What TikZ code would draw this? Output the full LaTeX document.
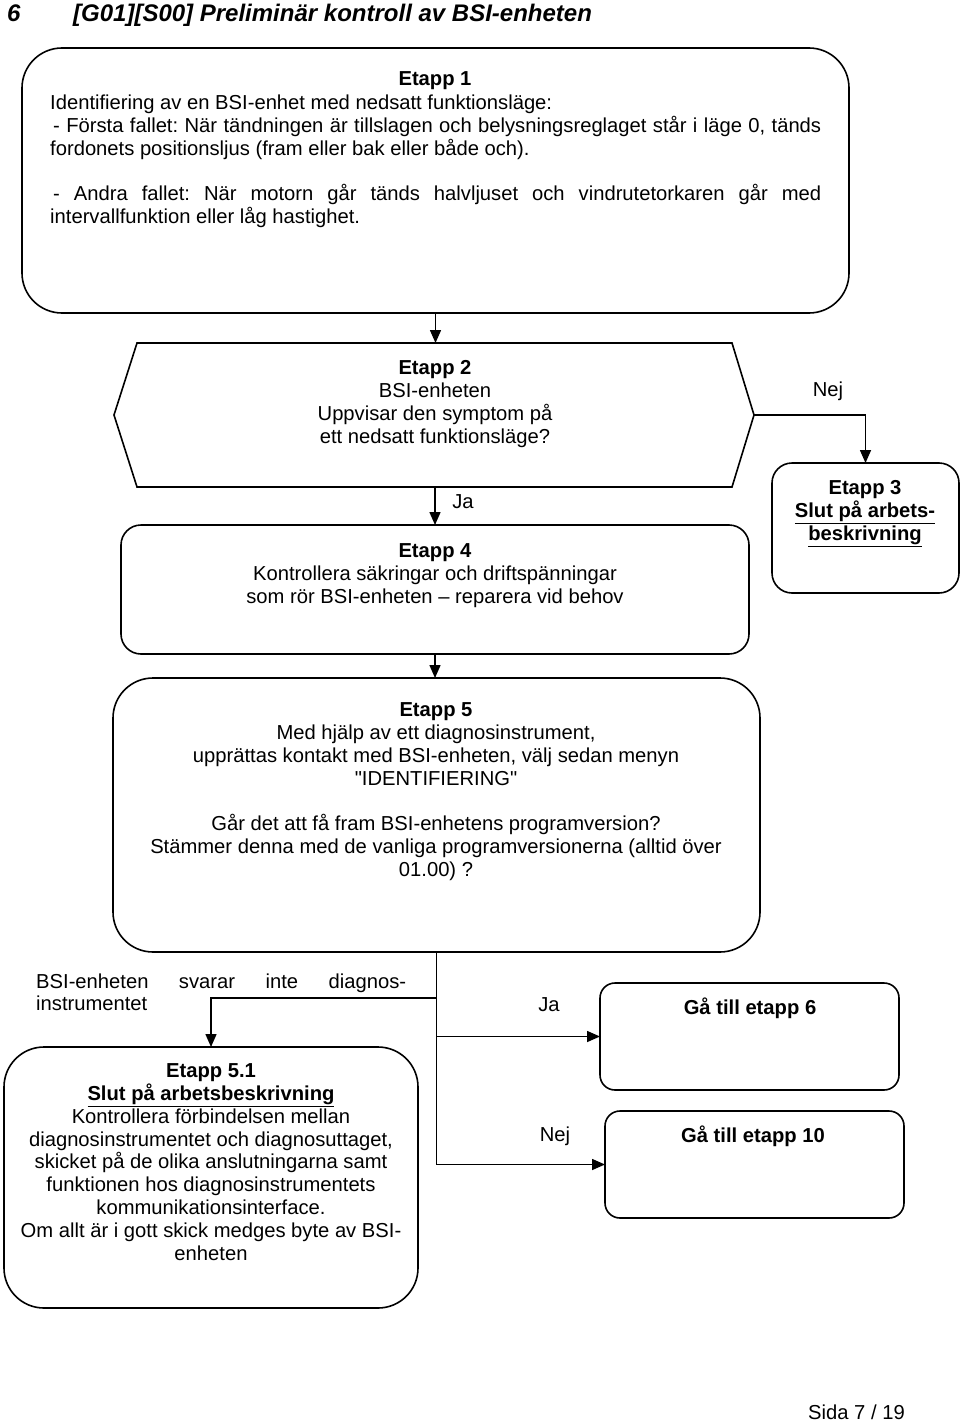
\documentclass[tikz,border=0pt]{standalone}
\usepackage{fontspec}
\setmainfont{Liberation Sans}[Ligatures=TeXOff]
\usetikzlibrary{arrows.meta}
\frenchspacing
\begin{document}
\begin{tikzpicture}[x=1pt,y=-1pt,
  box/.style={draw, line width=1.6pt, inner sep=0pt, outer sep=0pt},
  txt/.style={font=\fontsize{20.2}{22.8}\selectfont, inner sep=0pt, align=center},
  ltxt/.style={font=\fontsize{20.2}{22.8}\selectfont, inner sep=0pt, anchor=base west},
  conn/.style={line width=1.5pt, -{Triangle[length=13pt,width=11pt]}},
  plain/.style={line width=1.5pt}]
\useasboundingbox (0,0) rectangle (960,1423);

% title
\node[anchor=base west, inner sep=0pt, font=\fontsize{24}{28}\selectfont\bfseries\itshape] (num) at (7,22) {6};
\node[anchor=base west, inner sep=0pt, font=\fontsize{24}{28}\selectfont\bfseries\itshape] (title) at (73,22) {[G01][S00] Preliminär kontroll av BSI-enheten};

% boxes
\node[box, rounded corners=40pt, minimum width=827pt, minimum height=265pt] (e1) at (435.5,180.5) {};
\node[inner sep=0pt, outer sep=0pt, minimum width=640pt, minimum height=144pt] (hex) at (434,415) {};
\draw[line width=1.6pt] (hex.west) -- ([xshift=23pt]hex.north west) -- ([xshift=-22pt]hex.north east) -- (hex.east) -- ([xshift=-22pt]hex.south east) -- ([xshift=23pt]hex.south west) -- cycle;
\node[box, rounded corners=20pt, minimum width=187pt, minimum height=130pt] (e3) at (865.5,528) {};
\node[box, rounded corners=20pt, minimum width=628pt, minimum height=129pt] (e4) at (435,589.5) {};
\node[box, rounded corners=40pt, minimum width=647pt, minimum height=274pt] (e5) at (436.5,815) {};
\node[box, rounded corners=15pt, minimum width=299pt, minimum height=107pt] (g6) at (749.5,1036.5) {};
\node[box, rounded corners=15pt, minimum width=299pt, minimum height=107pt] (g10) at (754.5,1164.5) {};
\node[box, rounded corners=40pt, minimum width=414pt, minimum height=261pt] (e51) at (211,1177.5) {};

% texts
\node[txt, anchor=north] (t1) at (435,71.5) {\textbf{Etapp 1}};
\node[ltxt] (t1a) at (50,110) {Identifiering av en BSI-enhet med nedsatt funktionsläge:};
\node[ltxt] (t1b) at (53,133) {\makebox[768pt][s]{- Första fallet: När tändningen är tillslagen och belysningsreglaget står i läge 0, tänds}};
\node[ltxt] (t1c) at (50,156) {fordonets positionsljus (fram eller bak eller både och).};
\node[ltxt] (t1d) at (53,201) {\makebox[768pt][s]{- Andra fallet: När motorn går tänds halvljuset och vindrutetorkaren går med}};
\node[ltxt] (t1e) at (50,224) {intervallfunktion eller låg hastighet.};

\node[txt, anchor=north] (t2) at (435,360.5) {\textbf{Etapp 2}\\BSI-enheten\\Uppvisar den symptom på\\ett nedsatt funktionsläge?};
\node[txt, anchor=north] (t3) at (865,480.5) {\textbf{Etapp 3}\\\textbf{\underline{Slut på arbets-}}\\\textbf{\underline{beskrivning}}};
\node[txt, anchor=north] (t4) at (435,543.5) {\textbf{Etapp 4}\\Kontrollera säkringar och driftspänningar\\som rör BSI-enheten – reparera vid behov};
\node[txt, anchor=north] (t5) at (436,702.5) {\textbf{Etapp 5}\\Med hjälp av ett diagnosinstrument,\\upprättas kontakt med BSI-enheten, välj sedan menyn\\"IDENTIFIERING"\\[22.8pt]Går det att få fram BSI-enhetens programversion?\\Stämmer denna med de vanliga programversionerna (alltid över\\01.00) ?};
\node[txt, anchor=north] (t51) at (211,1063.5) {\textbf{Etapp 5.1}\\\textbf{\underline{Slut på arbetsbeskrivning}}\\Kontrollera förbindelsen mellan\\diagnosinstrumentet och diagnosuttaget,\\skicket på de olika anslutningarna samt\\funktionen hos diagnosinstrumentets\\kommunikationsinterface.\\Om allt är i gott skick medges byte av BSI-\\enheten};
\node[txt] (t6) at (750,1008) {\textbf{Gå till etapp 6}};
\node[txt] (t10) at (753,1136) {\textbf{Gå till etapp 10}};

% labels
\node[txt] (nej1) at (828,391) {Nej};
\node[txt] (ja1) at (463,502) {Ja};
\node[txt] (ja2) at (549,1005) {Ja};
\node[txt] (nej2) at (555,1136) {Nej};
\node[ltxt] (bsi1) at (36,988) {\makebox[370pt][s]{BSI-enheten svarar inte diagnos-}};
\node[ltxt] (bsi2) at (36,1010) {instrumentet};

% connectors
\draw[conn] (e1.south) -- (e1.south |- hex.north);
\draw[conn] (hex.east) -| (e3.north);
\draw[conn] (e4.north |- hex.south) -- (e4.north);
\draw[conn] (e4.south) -- (e4.south |- e5.north);
\coordinate (br) at (211,998);
\draw[plain] (e5.south) -- (e5.south |- g10.west);
\draw[conn] (e5.south |- br) -- (br) -- (e51.north);
\draw[conn] (e5.south |- g6.west) -- (g6.west);
\draw[conn] (e5.south |- g10.west) -- (g10.west);

% footer
\node[ltxt] (foot) at (808,1419) {Sida 7 / 19};
\end{tikzpicture}
\end{document}
